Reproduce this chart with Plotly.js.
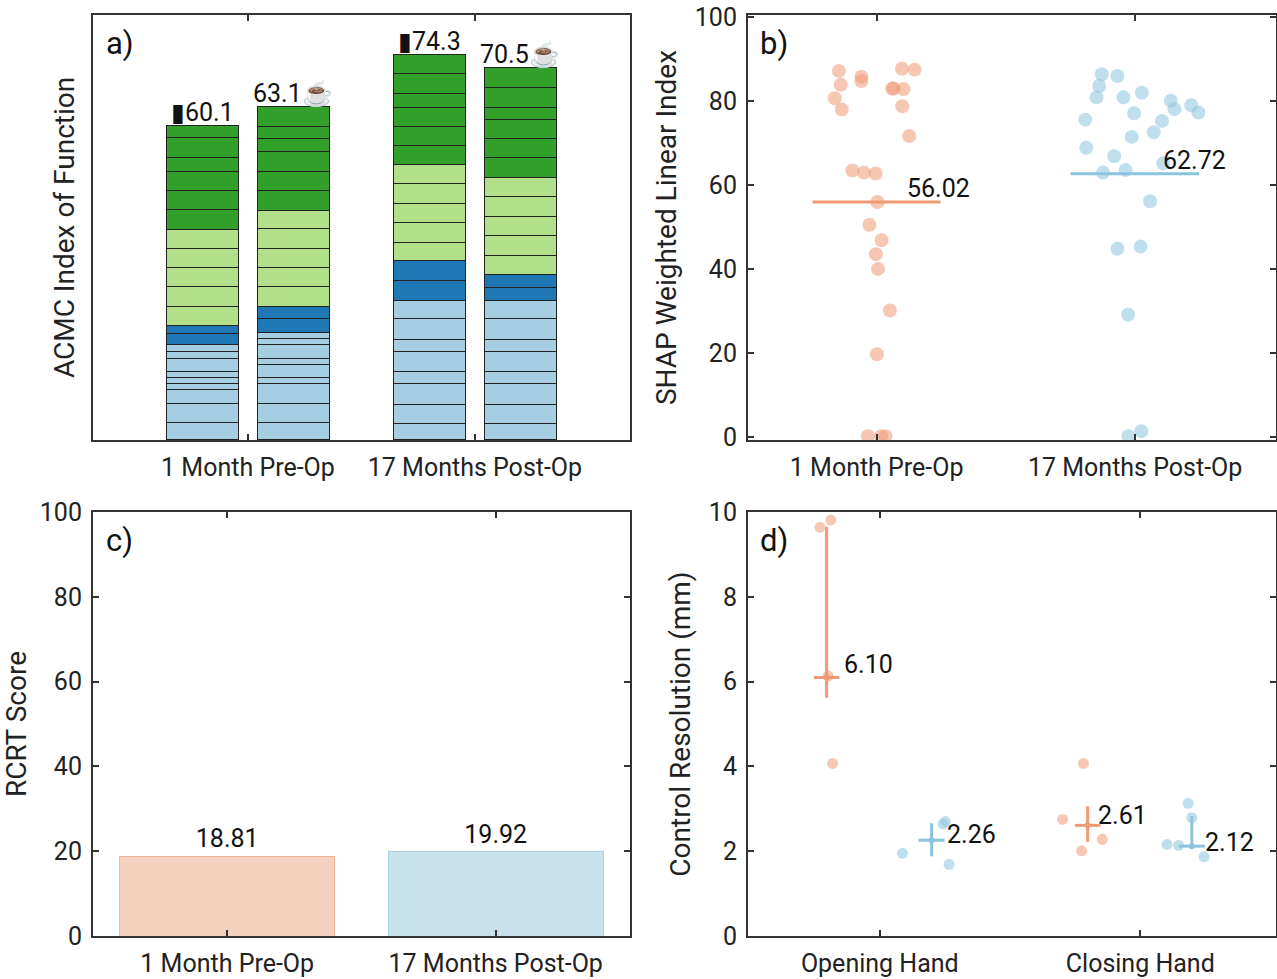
<!DOCTYPE html>
<html>
<head>
<meta charset="utf-8">
<script src="https://cdn.plot.ly/plotly-3.0.1.min.js"></script>
<style>body{margin:0;background:#fff}#chart{width:1277px;height:979px}</style>
</head>
<body>
<div id="chart"></div>
<script>
// panel a: segment heights per bar, bottom to top, per colour group
const barX = [0.8, 1.2, 1.8, 2.2];
const barTotals = ['60.1', '63.1', '74.3', '70.5'];
const lightBlueSegs = [
  [3.37, 3.63, 2.54, 1.27, 1.08, 1.15, 2.54, 1.27, 1.27],
  [3.37, 3.63, 3.69, 1.21, 2.54, 1.15, 2.67, 1.15, 1.15],
  [3.18, 3.63, 3.88, 2.35, 3.82, 2.35, 3.88, 3.44],
  [3.18, 3.63, 3.88, 2.35, 3.82, 2.35, 3.88, 3.44]
];
const darkBlueSegs = [[2.23, 1.46], [2.54, 2.29], [3.82, 3.82], [2.61, 2.35]];
const lightGreenSegs = [
  [3.56, 3.82, 3.69, 3.63, 3.69],
  [3.82, 3.69, 3.63, 3.75, 3.5],
  [3.56, 3.63, 3.69, 3.75, 3.69],
  [3.75, 3.69, 3.63, 3.82, 3.69]
];
const darkGreenSegs = [
  [3.63, 3.75, 3.63, 2.54, 3.82, 2.35],
  [3.75, 3.56, 3.82, 2.48, 2.42, 3.69],
  [3.63, 3.69, 3.63, 2.54, 3.82, 3.63],
  [3.69, 3.63, 3.69, 2.35, 3.69, 3.82]
];
const timeLabels = ['1 Month Pre-Op', '17 Months Post-Op'];

// panel b
const preX = [0.854,0.861,0.838,0.865,0.941,0.941,1.098,1.147,1.06,1.066,1.104,1.099,1.126,0.906,0.951,0.996,1.003,0.972,1.019,0.997,1.005,1.051,1.001,0.966,1.018,1.034];
const preY = [87.2,83.9,80.7,78.0,85.8,84.8,87.7,87.5,83.0,83.0,82.9,78.8,71.7,63.5,63.0,62.8,56.0,50.6,46.9,43.6,40.1,30.2,19.8,0.3,0.3,0.3];
const postX = [1.871,1.931,1.861,1.851,1.955,2.026,2.138,2.152,2.217,2.245,1.996,1.807,2.104,2.072,1.987,1.811,1.919,1.876,1.963,2.109,2.058,1.932,2.021,1.973,1.974,2.024];
const postY = [86.4,86.0,83.6,80.9,80.9,82.0,80.1,78.1,79.0,77.3,77.1,75.6,75.3,72.6,71.5,68.9,66.9,63.0,63.6,65.2,56.2,44.9,45.4,29.2,0.3,1.5];
const shapMeans = [56.02, 62.72];

// panel c
const rcrtScores = [18.81, 19.92];

// panel d
const handLabels = ['Opening Hand', 'Closing Hand'];
const preResX = [0.770, 0.812, 0.819, 0.802, 1.702, 1.782, 1.854, 1.775];
const preResY = [9.64, 9.81, 4.07, 6.13, 2.75, 4.07, 2.28, 2.01];
const postResX = [1.087, 1.266, 1.252, 1.243, 2.184, 2.198, 2.103, 2.147, 2.245];
const postResY = [1.95, 1.69, 2.70, 2.64, 3.13, 2.79, 2.16, 2.14, 1.87];
const preMeanX = [0.796, 1.798];
const preMean = [6.10, 2.61];
const preErrUp = [3.55, 0.45];
const preErrDown = [0.48, 0.39];
const postMeanX = [1.199, 2.198];
const postMean = [2.26, 2.12];
const postErrUp = [0.40, 0.71];
const postErrDown = [0.38, 0.01];

const orange = '#ef9a75', blue = '#8cc4de';
const font = 'Roboto, "Liberation Sans", sans-serif';
const traces = [];

function addGroup(segs, color) {
  const n = Math.max(...segs.map(s => s.length));
  for (let i = 0; i < n; i++) {
    traces.push({
      type: 'bar', x: barX, y: segs.map(s => s[i] || 0), width: 0.32,
      marker: {color: color, line: {color: '#222', width: 1}},
      xaxis: 'x', yaxis: 'y', hoverinfo: 'skip', showlegend: false
    });
  }
}
addGroup(lightBlueSegs, '#a6cee3');
addGroup(darkBlueSegs, '#1f78b4');
addGroup(lightGreenSegs, '#b2df8a');
addGroup(darkGreenSegs, '#33a02c');

const sum = a => a.reduce((p, q) => p + q, 0);
const barTops = barX.map((_, i) => sum(lightBlueSegs[i]) + sum(darkBlueSegs[i]) + sum(lightGreenSegs[i]) + sum(darkGreenSegs[i]));

// panel b
traces.push({type: 'scatter', mode: 'markers', x: preX, y: preY, xaxis: 'x2', yaxis: 'y2',
  marker: {size: 14, color: orange, opacity: 0.55}, showlegend: false});
traces.push({type: 'scatter', mode: 'markers', x: postX, y: postY, xaxis: 'x2', yaxis: 'y2',
  marker: {size: 14, color: blue, opacity: 0.55}, showlegend: false});
traces.push({type: 'scatter', mode: 'lines', x: [0.752, 1.247], y: [shapMeans[0], shapMeans[0]], xaxis: 'x2', yaxis: 'y2',
  line: {color: orange, width: 3}, showlegend: false});
traces.push({type: 'scatter', mode: 'lines', x: [1.75, 2.248], y: [shapMeans[1], shapMeans[1]], xaxis: 'x2', yaxis: 'y2',
  line: {color: blue, width: 3}, showlegend: false});

// panel c
traces.push({type: 'bar', x: timeLabels, y: rcrtScores, xaxis: 'x3', yaxis: 'y3', width: 0.8,
  marker: {color: ['#f5d2bf', '#c8e2ec'], line: {color: ['#f0b596', '#a9d3e4'], width: 1}},
  text: rcrtScores.map(v => v.toFixed(2)), textposition: 'outside', cliponaxis: false,
  textfont: {size: 25, color: '#111'}, showlegend: false});

// panel d
traces.push({type: 'scatter', mode: 'markers', x: preResX, y: preResY, xaxis: 'x4', yaxis: 'y4',
  marker: {size: 11, color: orange, opacity: 0.55}, showlegend: false});
traces.push({type: 'scatter', mode: 'markers', x: postResX, y: postResY, xaxis: 'x4', yaxis: 'y4',
  marker: {size: 11, color: blue, opacity: 0.55}, showlegend: false});
traces.push({type: 'scatter', mode: 'markers', x: preMeanX, y: preMean, xaxis: 'x4', yaxis: 'y4',
  marker: {size: 6, color: orange},
  error_y: {type: 'data', symmetric: false, array: preErrUp, arrayminus: preErrDown, color: orange, thickness: 3, width: 0},
  error_x: {type: 'constant', value: 0.049, color: orange, thickness: 3, width: 0}, showlegend: false});
traces.push({type: 'scatter', mode: 'markers', x: postMeanX, y: postMean, xaxis: 'x4', yaxis: 'y4',
  marker: {size: 6, color: blue},
  error_y: {type: 'data', symmetric: false, array: postErrUp, arrayminus: postErrDown, color: blue, thickness: 3, width: 0},
  error_x: {type: 'constant', value: 0.05, color: blue, thickness: 3, width: 0}, showlegend: false});

const ax = {showline: true, mirror: 'ticks', linecolor: '#333', linewidth: 2, ticks: 'inside', ticklen: 6,
  tickcolor: '#333', tickwidth: 2, showgrid: false, zeroline: false, ticklabelstandoff: 4,
  tickfont: {size: 25, color: '#222', family: font}};
const tfont = {size: 28, color: '#222', family: font};

const annotations = [];
const panelTag = (t, xr, yr) => annotations.push({text: t, xref: xr + ' domain', yref: yr + ' domain', x: 0.02, y: 0.98,
  xanchor: 'left', yanchor: 'top', showarrow: false, font: {size: 31, color: '#111', family: font}});
panelTag('a)', 'x', 'y'); panelTag('b)', 'x2', 'y2'); panelTag('c)', 'x3', 'y3'); panelTag('d)', 'x4', 'y4');

barX.forEach((x, i) => {
  const txt = i % 2 === 0 ? '▮' + barTotals[i] : barTotals[i] + '☕';
  annotations.push({text: txt, x: x, y: barTops[i], xref: 'x', yref: 'y', yanchor: 'bottom', showarrow: false,
    font: {size: 25, color: '#111', family: font}, yshift: -3});
});
annotations.push({text: shapMeans[0].toFixed(2), x: 1.11, y: shapMeans[0], xref: 'x2', yref: 'y2', xanchor: 'left', yanchor: 'bottom',
  showarrow: false, font: {size: 25, color: '#111', family: font}, yshift: -3});
annotations.push({text: shapMeans[1].toFixed(2), x: 2.1, y: shapMeans[1], xref: 'x2', yref: 'y2', xanchor: 'left', yanchor: 'bottom',
  showarrow: false, font: {size: 25, color: '#111', family: font}, yshift: -3});
const dLabX = [0.855, 1.25, 1.83, 2.24];
const dLabY = [6.4, 2.4, 2.85, 2.2];
const dLabT = [preMean[0], postMean[0], preMean[1], postMean[1]];
dLabX.forEach((x, i) => annotations.push({text: dLabT[i].toFixed(2), x: x, y: dLabY[i], xref: 'x4', yref: 'y4',
  xanchor: 'left', showarrow: false, font: {size: 25, color: '#111', family: font}}));

const layout = {
  width: 1277, height: 979, margin: {l: 0, r: 0, t: 0, b: 0}, paper_bgcolor: '#fff', plot_bgcolor: '#fff',
  barmode: 'stack', bargap: 0, font: {family: font}, annotations: annotations,
  xaxis: Object.assign({}, ax, {domain: [0.0728, 0.4933], range: [0.317, 2.683], tickvals: [1, 2], ticktext: timeLabels, anchor: 'y'}),
  yaxis: Object.assign({}, ax, {domain: [0.5506, 0.9847], range: [0, 81], showticklabels: false, ticks: '', anchor: 'x',
    title: {text: 'ACMC Index of Function', font: tfont, standoff: 8}}),
  xaxis2: Object.assign({}, ax, {domain: [0.5857, 0.999], range: [0.502, 2.544], tickvals: [1, 2], ticktext: timeLabels, anchor: 'y2'}),
  yaxis2: Object.assign({}, ax, {domain: [0.5506, 0.9847], range: [-0.6, 100.5], tickvals: [0, 20, 40, 60, 80, 100], anchor: 'x2',
    title: {text: 'SHAP Weighted Linear Index', font: tfont, standoff: 10}}),
  xaxis3: Object.assign({}, ax, {domain: [0.0728, 0.4933], range: [-0.5, 1.5], anchor: 'y3'}),
  yaxis3: Object.assign({}, ax, {domain: [0.0439, 0.477], range: [0, 100], tickvals: [0, 20, 40, 60, 80, 100], anchor: 'x3',
    title: {text: 'RCRT Score', font: tfont, standoff: 10}}),
  xaxis4: Object.assign({}, ax, {domain: [0.5857, 0.999], range: [0.494, 2.52], tickvals: [1, 2], ticktext: handLabels, anchor: 'y4'}),
  yaxis4: Object.assign({}, ax, {domain: [0.0439, 0.477], range: [0, 10], tickvals: [0, 2, 4, 6, 8, 10], anchor: 'x4',
    title: {text: 'Control Resolution (mm)', font: tfont, standoff: 10}})
};

Plotly.newPlot('chart', traces, layout, {staticPlot: true});
</script>
</body>
</html>
